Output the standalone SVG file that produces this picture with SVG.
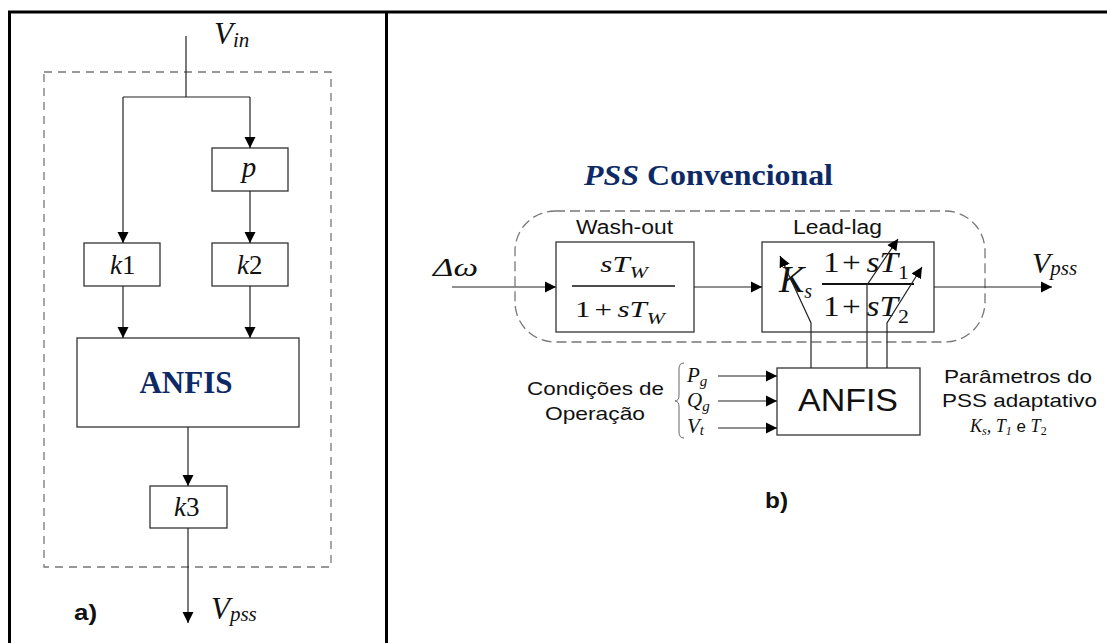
<svg xmlns="http://www.w3.org/2000/svg" width="1107" height="643" viewBox="0 0 1107 643">
<defs>
<style>
.frame{fill:none;stroke:#000;stroke-width:3}
.box{fill:#fff;stroke:#333;stroke-width:1.3}
.dash{fill:none;stroke:#777;stroke-width:1.3}
.ln{fill:none;stroke:#222;stroke-width:1.2}
.m{font-family:"Liberation Serif",serif;font-style:italic;fill:#111}
.mu{font-family:"Liberation Serif",serif;font-style:normal;fill:#111}
.sans{font-family:"Liberation Sans",Arial,sans-serif;fill:#111}
.title{font-family:"Liberation Serif",serif;font-weight:bold;fill:#0d2a66}
.lbl{font-family:"Liberation Sans",Arial,sans-serif;font-weight:bold;fill:#111}
</style>
<marker id="ah" markerUnits="userSpaceOnUse" markerWidth="12" markerHeight="12" viewBox="0 0 12 12" refX="11" refY="6" orient="auto">
<path d="M0,0.5 L11,6 L0,11.5 Z" fill="#000"/>
</marker>
</defs>
<rect width="1107" height="643" fill="#fff"/>
<g id="frame">
<path class="frame" d="M9.5,646 V12 H1110"/>
<line class="frame" x1="386.5" y1="12" x2="386.5" y2="646"/>
</g>

<!-- Left panel -->
<g id="a-boundary"><rect class="dash" x="44" y="72" width="287" height="495" stroke-dasharray="8,6"/></g>
<g id="a-vin"><text class="m" x="214" y="44" font-size="31">V<tspan font-size="21" dy="3">in</tspan></text></g>
<g id="a-p"><rect class="box" x="212" y="148" width="76" height="43"/><text class="m" x="249" y="177" font-size="29" text-anchor="middle" fill="#0d2a66">p</text></g>
<g id="a-k1"><rect class="box" x="84" y="243" width="76" height="43"/><text class="m" x="110" y="274" font-size="27">k<tspan class="mu">1</tspan></text></g>
<g id="a-k2"><rect class="box" x="212" y="243" width="76" height="43"/><text class="m" x="237" y="274" font-size="27">k<tspan class="mu">2</tspan></text></g>
<g id="a-anfis"><rect class="box" x="77" y="338" width="222" height="89"/><text class="title" x="186" y="393" font-size="31" text-anchor="middle">ANFIS</text></g>
<g id="a-k3"><rect class="box" x="150" y="486" width="77" height="42"/><text class="m" x="174" y="516" font-size="27">k<tspan class="mu">3</tspan></text></g>
<g id="a-vpss"><text class="m" x="211" y="619" font-size="31">V<tspan font-size="21" dy="2">pss</tspan></text></g>
<g id="a-label"><text class="lbl" x="74" y="620" font-size="22" textLength="23" lengthAdjust="spacingAndGlyphs">a)</text></g>

<!-- Right panel -->
<g id="b-title"><text class="title" x="584" y="185" font-size="30" textLength="249" lengthAdjust="spacingAndGlyphs"><tspan font-style="italic">PSS</tspan> Convencional</text></g>
<g id="b-boundary"><rect class="dash" x="515" y="211" width="470" height="131" rx="40" ry="40" stroke-dasharray="10,5"/></g>
<g id="b-dw"><text class="m" x="433" y="276" font-size="25" textLength="45" lengthAdjust="spacingAndGlyphs">Δω</text></g>
<g id="b-washout">
<text class="sans" x="576" y="234" font-size="20" textLength="97" lengthAdjust="spacingAndGlyphs">Wash-out</text>
<rect class="box" x="556" y="242" width="138" height="90"/>
<line x1="572" y1="286" x2="675" y2="286" stroke="#111" stroke-width="1.6"/>
<g transform="matrix(1.35,0,0,1,-218.4,0)">
<text class="m" font-size="23" x="624" y="272" text-anchor="middle">sT<tspan font-size="16" dy="6">W</tspan></text>
<text class="m" font-size="23" x="621" y="317" text-anchor="middle"><tspan class="mu">1</tspan><tspan class="mu" dx="3">+</tspan><tspan dx="4">s</tspan>T<tspan font-size="16" dy="7">W</tspan></text>
</g>
</g>
<g id="b-leadlag">
<text class="sans" x="793" y="234" font-size="20" textLength="89" lengthAdjust="spacingAndGlyphs">Lead-lag</text>
<rect class="box" x="762" y="242" width="172" height="90"/>
<text class="m" x="779" y="292" font-size="38">K<tspan font-size="20" dy="6">s</tspan></text>
<line x1="822" y1="284" x2="914" y2="284" stroke="#111" stroke-width="1.8"/>
<g transform="matrix(1.15,0,0,1,-129.9,0)">
<text class="m" font-size="29" x="866" y="272" text-anchor="middle"><tspan class="mu">1</tspan><tspan class="mu" dx="2">+</tspan><tspan dx="5">s</tspan>T<tspan class="mu" font-size="19" dy="7">1</tspan></text>
<text class="m" font-size="29" x="866" y="316" text-anchor="middle"><tspan class="mu">1</tspan><tspan class="mu" dx="2">+</tspan><tspan dx="5">s</tspan>T<tspan class="mu" font-size="19" dy="7">2</tspan></text>
</g>
</g>
<g id="b-vpss"><text class="m" x="1032" y="273" font-size="30">V<tspan font-size="21" dy="2">pss</tspan></text></g>
<g id="b-anfis"><rect class="box" x="777" y="368" width="143" height="67"/><text class="sans" x="798" y="411" font-size="32" textLength="100" lengthAdjust="spacingAndGlyphs">ANFIS</text></g>
<g id="b-conditions">
<text class="sans" x="527" y="395" font-size="19" textLength="137" lengthAdjust="spacingAndGlyphs">Condições de</text>
<text class="sans" x="545" y="420" font-size="19" textLength="100" lengthAdjust="spacingAndGlyphs">Operação</text>
<path d="M684,363 Q679,363 679,369 L679,395 Q679,401 675,401 Q679,401 679,407 L679,432 Q679,438 684,438" fill="none" stroke="#666" stroke-width="1"/>
<text class="m" x="687" y="382" font-size="21">P<tspan font-size="15" dy="4">g</tspan></text>
<text class="m" x="687" y="407" font-size="21">Q<tspan font-size="15" dy="4">g</tspan></text>
<text class="m" x="687" y="433" font-size="21">V<tspan font-size="15" dy="2">t</tspan></text>
</g>
<g id="b-params">
<text class="sans" x="944" y="383" font-size="19" textLength="148" lengthAdjust="spacingAndGlyphs">Parâmetros do</text>
<text class="sans" x="942" y="407" font-size="19" textLength="155" lengthAdjust="spacingAndGlyphs">PSS adaptativo</text>
<text class="m" x="970" y="432" font-size="18">K<tspan font-size="12" dy="3">s</tspan><tspan dy="-3">, T</tspan><tspan font-size="12" dy="3">1</tspan><tspan class="sans" font-style="normal" font-size="17" dy="-3"> e </tspan><tspan>T</tspan><tspan class="mu" font-size="12" dy="3">2</tspan></text>
</g>
<g id="b-label"><text class="lbl" x="765" y="508" font-size="22" textLength="23" lengthAdjust="spacingAndGlyphs">b)</text></g>

<!-- Connectors -->
<g id="connectors">
<line class="ln" x1="186" y1="36" x2="186" y2="97"/>
<line class="ln" x1="123" y1="97" x2="250" y2="97"/>
<line class="ln" x1="250" y1="97" x2="250" y2="148" marker-end="url(#ah)"/>
<line class="ln" x1="123" y1="97" x2="123" y2="243" marker-end="url(#ah)"/>
<line class="ln" x1="250" y1="191" x2="250" y2="243" marker-end="url(#ah)"/>
<line class="ln" x1="123" y1="286" x2="123" y2="338" marker-end="url(#ah)"/>
<line class="ln" x1="250" y1="286" x2="250" y2="338" marker-end="url(#ah)"/>
<line class="ln" x1="188" y1="427" x2="188" y2="486" marker-end="url(#ah)"/>
<line class="ln" x1="188" y1="528" x2="188" y2="623" marker-end="url(#ah)"/>

<line class="ln" x1="452" y1="287" x2="556" y2="287" marker-end="url(#ah)"/>
<line class="ln" x1="694" y1="287" x2="762" y2="287" marker-end="url(#ah)"/>
<line class="ln" x1="934" y1="287" x2="1052" y2="287" marker-end="url(#ah)"/>

<line class="ln" x1="718" y1="376" x2="777" y2="376" marker-end="url(#ah)"/>
<line class="ln" x1="718" y1="401" x2="777" y2="401" marker-end="url(#ah)"/>
<line class="ln" x1="718" y1="428" x2="777" y2="428" marker-end="url(#ah)"/>

<polyline class="ln" points="811,368 811,323 780,256" marker-end="url(#ah)"/>
<polyline class="ln" points="867,368 867,285 898,239" marker-end="url(#ah)"/>
<polyline class="ln" points="887,368 887,323 922,267" marker-end="url(#ah)"/>
</g>
</svg>
